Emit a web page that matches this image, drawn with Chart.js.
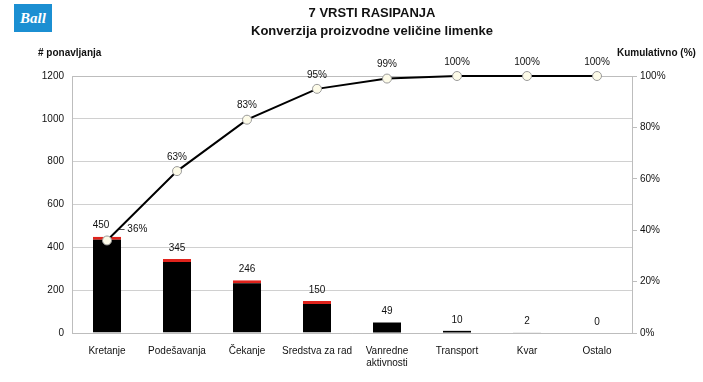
<!DOCTYPE html>
<html>
<head>
<meta charset="utf-8">
<script src="https://cdn.jsdelivr.net/npm/chart.js@4/dist/chart.umd.min.js"></script>
<style>
  html, body { margin: 0; padding: 0; background: #fff; }
  #wrap { position: relative; width: 703px; height: 382px; }
  #logo {
    position: absolute; left: 14px; top: 4px; width: 38px; height: 28px;
    background: #1b8fd2; color: #fff; font: italic bold 15px "Liberation Serif", serif;
    text-align: center; line-height: 28px;
  }
</style>
</head>
<body>
<div id="wrap">
  <canvas id="pareto" width="703" height="382"></canvas>
  <div id="logo">Ball</div>
</div>
<script>
const categories = ["Kretanje", "Podešavanja", "Čekanje", "Sredstva za rad", ["Vanredne", "aktivnosti"], "Transport", "Kvar", "Ostalo"];
const counts = [450, 345, 246, 150, 49, 10, 2, 0];
const cumulativePct = [36, 63, 83, 95, 99, 100, 100, 100];
const leftTicks = [0, 200, 400, 600, 800, 1000, 1200];
const rightTicks = [0, 20, 40, 60, 80, 100];

const font = "'Liberation Sans', Arial, sans-serif";
const textDark = "#111";

// titles, axis captions and value labels
const labelsPlugin = {
  id: "labelsPlugin",
  afterDatasetsDraw(chart) {
    const { ctx } = chart;
    ctx.save();
    ctx.fillStyle = textDark;
    ctx.textAlign = "center";
    ctx.textBaseline = "middle";
    ctx.font = `bold 13px ${font}`;
    ctx.fillText("7 VRSTI RASIPANJA", 372, 13);
    ctx.fillText("Konverzija proizvodne veličine limenke", 372, 31);

    ctx.font = `bold 10px ${font}`;
    ctx.textAlign = "left";
    ctx.fillText("# ponavljanja", 38, 53);
    ctx.fillText("Kumulativno (%)", 617, 53);

    ctx.font = `10px ${font}`;
    ctx.textAlign = "center";
    const bars = chart.getDatasetMeta(0).data;
    bars.forEach((bar, i) => {
      ctx.fillText(String(counts[i]), bar.x - (i === 0 ? 6 : 0), bar.y - 11);
    });

    const pts = chart.getDatasetMeta(1).data;
    pts.forEach((p, i) => {
      if (i === 0) {
        ctx.textAlign = "left";
        ctx.fillText("– " + cumulativePct[i] + "%", p.x + 12, p.y - 11);
        ctx.textAlign = "center";
      } else {
        ctx.fillText(cumulativePct[i] + "%", p.x, p.y - 14);
      }
    });
    ctx.restore();
  },
  beforeDatasetsDraw(chart) {
    const { ctx, chartArea } = chart;
    // plot frame (top and left)
    ctx.save();
    ctx.strokeStyle = "#bdbdbd";
    ctx.lineWidth = 1;
    ctx.beginPath();
    ctx.moveTo(chartArea.left + 0.5, chartArea.bottom);
    ctx.lineTo(chartArea.left + 0.5, chartArea.top + 0.5);
    ctx.lineTo(chartArea.right, chartArea.top + 0.5);
    ctx.stroke();
    ctx.restore();
  }
};

new Chart(document.getElementById("pareto"), {
  data: {
    labels: categories,
    datasets: [
      {
        type: "bar",
        data: counts,
        yAxisID: "y",
        backgroundColor: "#000",
        borderColor: "#e0231c",
        borderWidth: ctx => (counts[ctx.dataIndex] > 100 ? { top: 3, left: 0, right: 0, bottom: 0 } : 0),
        borderSkipped: false,
        categoryPercentage: 1,
        barPercentage: 0.4,
        order: 1
      },
      {
        type: "line",
        data: cumulativePct,
        yAxisID: "y1",
        borderColor: "#000",
        borderWidth: 2,
        pointRadius: 4.5,
        pointBackgroundColor: "#fdfbe8",
        pointBorderColor: "#9a9a9a",
        pointBorderWidth: 1,
        tension: 0,
        clip: false,
        order: 0
      }
    ]
  },
  options: {
    responsive: false,
    animation: false,
    layout: { padding: { top: 76, bottom: 0, left: 0, right: 0 } },
    plugins: { legend: { display: false }, tooltip: { enabled: false } },
    scales: {
      x: {
        grid: { display: false },
        border: { color: "#bdbdbd" },
        ticks: { color: textDark, font: { family: font, size: 10 }, padding: 4, maxRotation: 0, autoSkip: false },
        afterFit(scale) { scale.height = 49; }
      },
      y: {
        position: "left",
        min: 0, max: 1200,
        afterBuildTicks(scale) { scale.ticks = leftTicks.map(v => ({ value: v })); },
        grid: { color: "#d0d0d0", drawTicks: false },
        border: { display: false },
        ticks: { color: textDark, font: { family: font, size: 10 }, padding: 8, callback: v => String(v) },
        afterFit(scale) { scale.width = 72; }
      },
      y1: {
        position: "right",
        min: 0, max: 100,
        afterBuildTicks(scale) { scale.ticks = rightTicks.map(v => ({ value: v })); },
        grid: { drawOnChartArea: false, color: "#bdbdbd", tickLength: 5 },
        border: { color: "#bdbdbd" },
        ticks: { color: textDark, font: { family: font, size: 10 }, padding: 3, callback: v => v + "%" },
        afterFit(scale) { scale.width = 71; }
      }
    }
  },
  plugins: [labelsPlugin]
});
</script>
</body>
</html>
